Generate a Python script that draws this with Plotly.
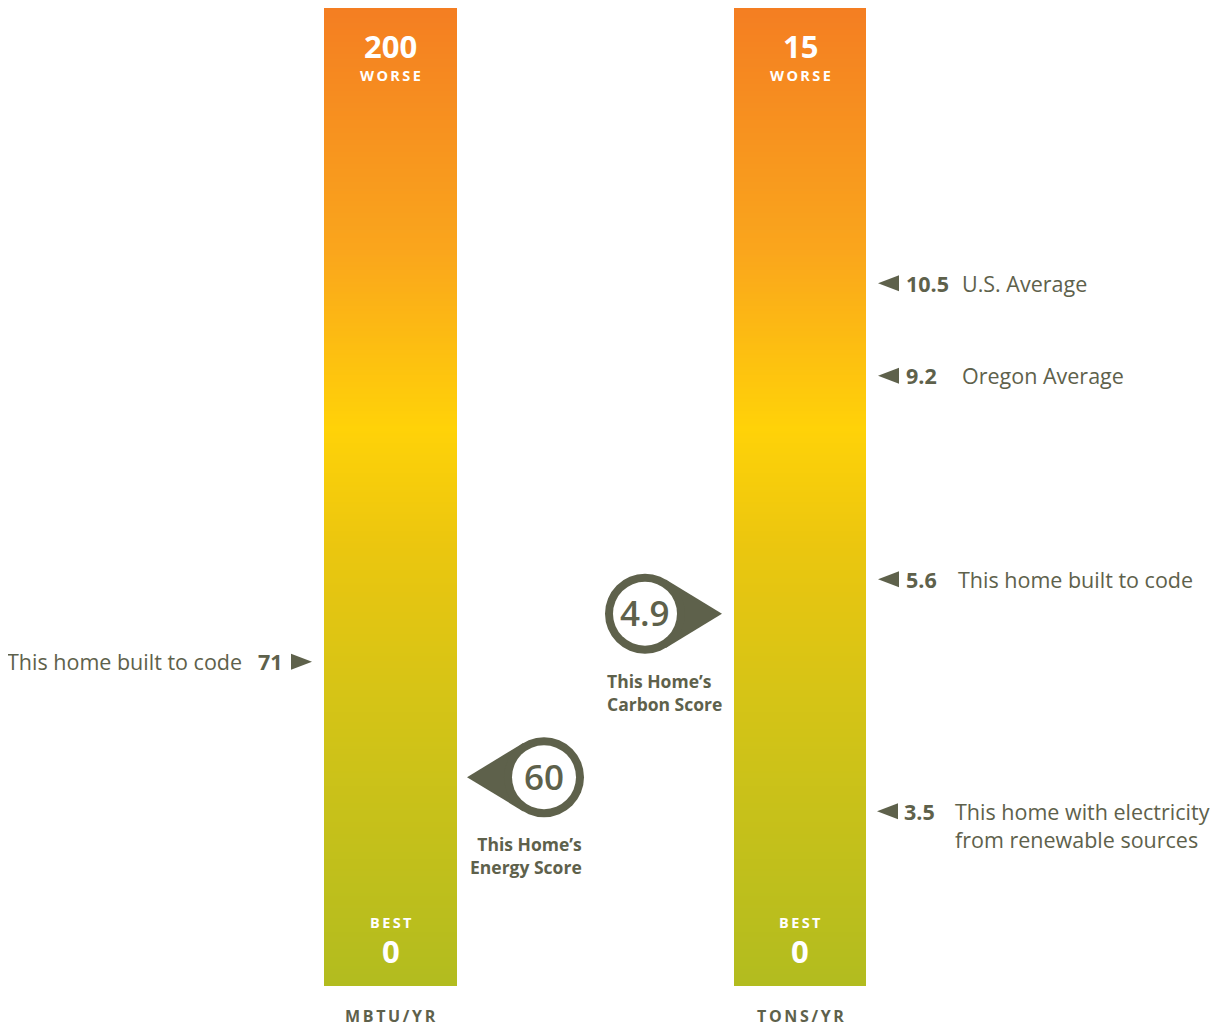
import numpy as np
import plotly.graph_objects as go

# ---------------- data ----------------
energy_axis_max = 200
carbon_axis_max = 15
energy_unit = "MBTU/YR"
carbon_unit = "TONS/YR"

energy_ref_values = [71]
energy_ref_labels = ["This home built to code"]
energy_ref_pos = [66.3]          # where the pointer sits on the drawn scale

energy_score = 60
energy_score_pos = 42.7
energy_score_label = "This Home’s<br>Energy Score"

carbon_ref_values = [10.5, 9.2, 5.6, 3.5]
carbon_ref_labels = ["U.S. Average", "Oregon Average", "This home built to code",
                     "This home with electricity<br>from renewable sources"]
carbon_ref_pos = [10.78, 9.36, 6.24, 2.68]

carbon_score = 4.9
carbon_score_pos = 5.71
carbon_score_label = "This Home’s<br>Carbon Score"

top_word = "WORSE"
bottom_word = "BEST"

# ---------------- style / layout ----------------
PAGE_OFF = 8                     # default body margin of the html page
W, H = 1224 - PAGE_OFF, 1027 - PAGE_OFF
TOP_PX, BOT_PX = 8 - PAGE_OFF, 986 - PAGE_OFF
OLIVE = "#5E614B"
FONT = "Open Sans"
SP = "\u2009"

def spaced(s):
    return SP.join(list(s))

def yrange(vmax):
    per = vmax / (BOT_PX - TOP_PX)
    return [-(H - BOT_PX) * per, vmax + TOP_PX * per]

colorscale = [
    [0.0, "#B2BC1F"],
    [0.30, "#D6C416"],
    [0.45, "#EBC60F"],
    [0.57, "#FFD208"],
    [0.75, "#FAA61C"],
    [1.0, "#F47E22"],
]

bars = [
    dict(x0=324, x1=457, vmax=energy_axis_max, yaxis="y", unit=energy_unit),
    dict(x0=734, x1=866, vmax=carbon_axis_max, yaxis="y2", unit=carbon_unit),
]

fig = go.Figure()
annotations = []
shapes = []

N = 400
for b in bars:
    edges = np.linspace(0, b["vmax"], N + 1)
    mids = (edges[:-1] + edges[1:]) / 2
    fig.add_trace(go.Heatmap(
        x=[b["x0"], b["x1"]], y=edges, z=mids.reshape(-1, 1),
        zmin=0, zmax=b["vmax"], colorscale=colorscale, showscale=False,
        hoverinfo="skip", xaxis="x", yaxis=b["yaxis"]))
    cx = (b["x0"] + b["x1"]) / 2
    yref = b["yaxis"]
    annotations += [
        dict(x=cx, y=b["vmax"], xref="x", yref=yref, yshift=-38,
             text=f"<b>{b['vmax']}</b>", font=dict(family=FONT, size=31, color="white")),
        dict(x=cx, y=b["vmax"], xref="x", yref=yref, yshift=-67,
             text=f"<b>{spaced(top_word)}</b>", font=dict(family=FONT, size=14.5, color="white")),
        dict(x=cx, y=0, xref="x", yref=yref, yshift=64,
             text=f"<b>{spaced(bottom_word)}</b>", font=dict(family=FONT, size=14.5, color="white")),
        dict(x=cx, y=0, xref="x", yref=yref, yshift=35,
             text="<b>0</b>", font=dict(family=FONT, size=31, color="white")),
        dict(x=cx, y=0, xref="x", yref=yref, yshift=-30,
             text=f"<b>{spaced(b['unit'])}</b>", font=dict(family=FONT, size=16, color=OLIVE)),
    ]

def tri(xc, y, yref, direction):
    w, h = 10.5, 8
    if direction == "left":
        path = f"M {-w},0 L {w},{h} L {w},{-h} Z"
    else:
        path = f"M {w},0 L {-w},{h} L {-w},{-h} Z"
    return dict(type="path", xref="x", yref=yref, xsizemode="pixel", ysizemode="pixel",
                xanchor=xc, yanchor=y, path=path, fillcolor=OLIVE, line=dict(width=0))

def fmt(v):
    return f"{v:g}"

# left references (energy)
for v, lab, p in zip(energy_ref_values, energy_ref_labels, energy_ref_pos):
    shapes.append(tri(301.5, p, "y", "right"))
    annotations.append(dict(x=285, y=p, xref="x", yref="y", xanchor="right",
                            text=f"<b>{fmt(v)}</b>", font=dict(family=FONT, size=21.5, color=OLIVE)))
    annotations.append(dict(x=244, y=p, xref="x", yref="y", xanchor="right",
                            text=lab, font=dict(family=FONT, size=21.5, color=OLIVE)))

# right references (carbon)
label_x = [960, 960, 956, 953]
num_x = [904, 904, 904, 902]
for i, (v, lab, p) in enumerate(zip(carbon_ref_values, carbon_ref_labels, carbon_ref_pos)):
    shapes.append(tri(888.5 - (1 if i == 3 else 0), p, "y2", "left"))
    nlines = lab.count("<br>") + 1
    annotations.append(dict(x=num_x[i], y=p, xref="x", yref="y2", xanchor="left",
                            text=f"<b>{fmt(v)}</b>", font=dict(family=FONT, size=21.5, color=OLIVE)))
    annotations.append(dict(x=label_x[i], y=p, xref="x", yref="y2", xanchor="left", align="left",
                            yshift=-(nlines - 1) * 14.5,
                            text=lab, font=dict(family=FONT, size=21.5, color=OLIVE)))

# score badges
def badge(cx, p, yref, direction, value, label):
    R, r, d = 40, 32, 77
    a = np.arccos(R / d)
    tx, ty = R * np.cos(a), R * np.sin(a)
    s = -1 if direction == "left" else 1
    path = f"M {s*d},0 L {s*tx:.2f},{ty:.2f} L 0,0 L {s*tx:.2f},{-ty:.2f} Z"
    common = dict(xref="x", yref=yref, xsizemode="pixel", ysizemode="pixel", xanchor=cx, yanchor=p)
    out = [
        dict(type="path", path=path, fillcolor=OLIVE, line=dict(width=0), **common),
        dict(type="circle", x0=-R, x1=R, y0=-R, y1=R, fillcolor=OLIVE, line=dict(width=0), **common),
        dict(type="circle", x0=-r, x1=r, y0=-r, y1=r, fillcolor="white", line=dict(width=0), **common),
    ]
    ann = [dict(x=cx, y=p, xref="x", yref=yref, text=fmt(value), yshift=1,
                font=dict(family=FONT, size=35, color=OLIVE, weight=600))]
    if direction == "left":
        ann.append(dict(x=cx + R, y=p, xref="x", yref=yref, xanchor="right", yanchor="top",
                        align="right", yshift=-53, text=f"<b>{label}</b>",
                        font=dict(family=FONT, size=17.5, color=OLIVE)))
    else:
        ann.append(dict(x=cx - R, y=p, xref="x", yref=yref, xanchor="left", yanchor="top",
                        align="left", yshift=-53, text=f"<b>{label}</b>",
                        font=dict(family=FONT, size=17.5, color=OLIVE)))
    return out, ann

s1, a1 = badge(544, energy_score_pos, "y", "left", energy_score, energy_score_label)
s2, a2 = badge(645, carbon_score_pos, "y2", "right", carbon_score, carbon_score_label)
shapes += s1 + s2
annotations += a1 + a2

for a in annotations:
    a.setdefault("showarrow", False)

fig.update_layout(
    width=W, height=H, margin=dict(l=0, r=0, t=0, b=0),
    paper_bgcolor="white", plot_bgcolor="white", showlegend=False,
    xaxis=dict(range=[PAGE_OFF, PAGE_OFF + W], visible=False, fixedrange=True),
    yaxis=dict(range=yrange(energy_axis_max), visible=False, fixedrange=True),
    yaxis2=dict(range=yrange(carbon_axis_max), visible=False, fixedrange=True,
                overlaying="y"),
    shapes=shapes, annotations=annotations,
)

fig.write_html("out.html")
